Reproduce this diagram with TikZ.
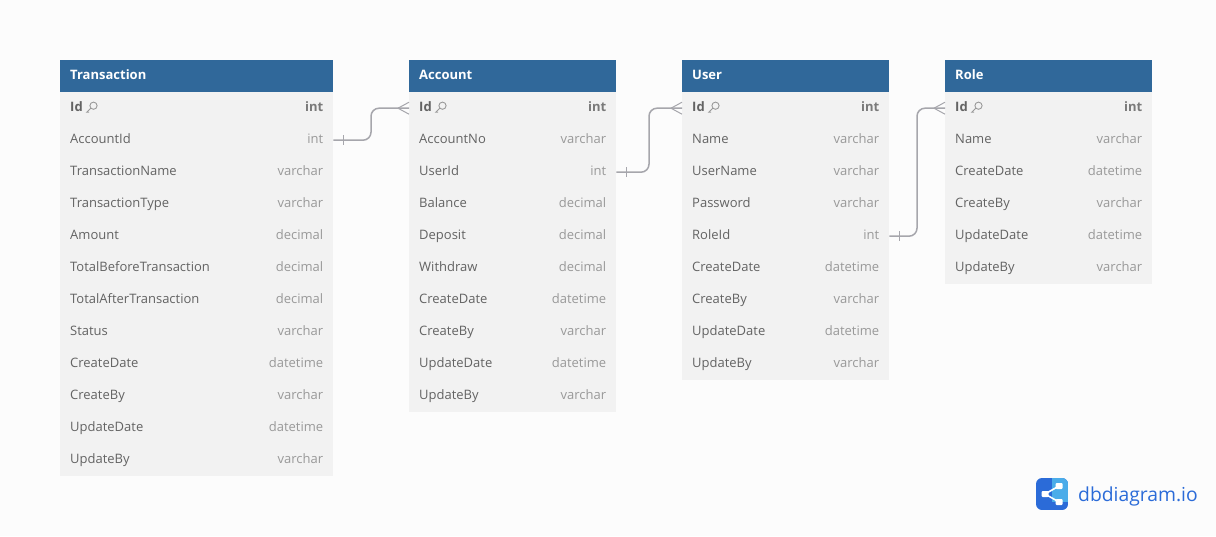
\documentclass[tikz,border=0pt]{standalone}
\usepackage{fontspec}
\setmainfont{Open Sans}
\usetikzlibrary{positioning}
\definecolor{headblue}{HTML}{30689A}
\definecolor{rowgrey}{HTML}{F2F2F2}
\definecolor{pagegrey}{HTML}{FCFCFC}
\definecolor{namegrey}{HTML}{636363}
\definecolor{typegrey}{HTML}{999999}
\definecolor{relgrey}{HTML}{A6A6AC}
\definecolor{logoblue}{HTML}{2B6BD8}
\tikzset{
	tblhead/.style={fill=headblue, text=white, font=\fontsize{13}{15}\selectfont\bfseries, minimum height=32, inner sep=0, inner xsep=10, anchor=north west},
	tblrow/.style={fill=rowgrey, text=namegrey, font=\fontsize{13}{15}\selectfont, minimum height=32, inner sep=0, inner xsep=10, anchor=north west},
	tbltype/.style={text=typegrey, font=\fontsize{13}{15}\selectfont, inner sep=0, anchor=base east},
	relline/.style={draw=relgrey, line width=1.5pt, rounded corners=8},
	relmark/.style={draw=relgrey, line width=1pt},
	keyicon/.style={draw=typegrey, line width=0.9pt}
}
% table: name, x, width, title, rows
\newcommand{\dbtable}[5]{
	\node [tblhead, minimum width=#3, text width=#3-20] (#1-head) at (#2,60) {\raisebox{1.5pt}{\strut #4}};
	\foreach \fname/\ftype [count=\xi] in {#5}{
		\pgfmathtruncatemacro{\yi}{92+32*(\xi-1)}
		\ifnum\xi=1
			\node [tblrow, minimum width=#3, text width=#3-20, text=namegrey, font=\fontsize{13}{15}\selectfont\bfseries] (#1-\xi) at (#2,\yi) {\raisebox{1.5pt}{\strut\fname}};
			\node [tbltype, font=\fontsize{13}{15}\selectfont\bfseries, text=namegrey!85] (#1-type\xi) at ([xshift=-10,yshift=-3.2]#1-\xi.east) {\ftype};
			\draw [keyicon] ([xshift=33.5,yshift=2.5]#1-\xi.west) circle (3.6);
			\draw [keyicon] ([xshift=30.8,yshift=0]#1-\xi.west) -- ([xshift=26.8,yshift=-4]#1-\xi.west) -- ([xshift=29,yshift=-4]#1-\xi.west);
		\else
			\node [tblrow, minimum width=#3, text width=#3-20] (#1-\xi) at (#2,\yi) {\raisebox{1.5pt}{\strut\fname}};
			\node [tbltype] (#1-type\xi) at ([xshift=-10,yshift=-3.2]#1-\xi.east) {\ftype};
		\fi
	}
}
% relation: from row, to row, x of the bend
\newcommand{\dbrel}[3]{
	\coordinate (#1-bend) at (#3,124);
	\draw [relline] (#1.east) -| (#1-bend) |- (#2.west);
	\draw [relmark] ([xshift=10,yshift=5]#1.east) -- ([xshift=10,yshift=-5]#1.east);
	\draw [relmark] ([xshift=-11]#2.west) -- ([yshift=6]#2.west);
	\draw [relmark] ([xshift=-11]#2.west) -- ([yshift=-6]#2.west);
}

\begin{document}
\begin{tikzpicture}[x=1pt, y=-1pt]
	\useasboundingbox (0,0) rectangle (1216,536);
	\fill [pagegrey] (0,0) rectangle (1216,536);

	\dbtable{Trans}{60}{273}{Transaction}{Id/int, AccountId/int, TransactionName/varchar, TransactionType/varchar, Amount/decimal, TotalBeforeTransaction/decimal, TotalAfterTransaction/decimal, Status/varchar, CreateDate/datetime, CreateBy/varchar, UpdateDate/datetime, UpdateBy/varchar}
	\dbtable{Acc}{409}{207}{Account}{Id/int, AccountNo/varchar, UserId/int, Balance/decimal, Deposit/decimal, Withdraw/decimal, CreateDate/datetime, CreateBy/varchar, UpdateDate/datetime, UpdateBy/varchar}
	\dbtable{Usr}{682}{207}{User}{Id/int, Name/varchar, UserName/varchar, Password/varchar, RoleId/int, CreateDate/datetime, CreateBy/varchar, UpdateDate/datetime, UpdateBy/varchar}
	\dbtable{Role}{945}{207}{Role}{Id/int, Name/varchar, CreateDate/datetime, CreateBy/varchar, UpdateDate/datetime, UpdateBy/varchar}

	\dbrel{Trans-2}{Acc-1}{371}
	\dbrel{Acc-3}{Usr-1}{649}
	\dbrel{Usr-5}{Role-1}{917}

	% logo
	\begin{scope}
		\clip [rounded corners=6] (1036,478) rectangle (1068,510);
		\fill [logoblue] (1036,478) rectangle (1068,510);
		\fill [logoblue!70!cyan!80!white] (1052,478) rectangle (1068,502);
	\end{scope}
	\coordinate (logoL) at (1045,494);
	\coordinate (logoT) at (1059,486);
	\coordinate (logoB) at (1059,502);
	\draw [white, line width=1.6pt] (logoT) -- (logoL) -- (logoB);
	\foreach \p in {logoL, logoT, logoB}
		\fill [white, rounded corners=1] ([shift={(-3.5,-3)}]\p) rectangle ([shift={(3.5,3)}]\p);
	\node [text=logoblue, font=\fontsize{19.3}{24}\selectfont, inner sep=0, anchor=base west] (logotext) at (1078,501.5) {dbdiagram.io};
\end{tikzpicture}
\end{document}
